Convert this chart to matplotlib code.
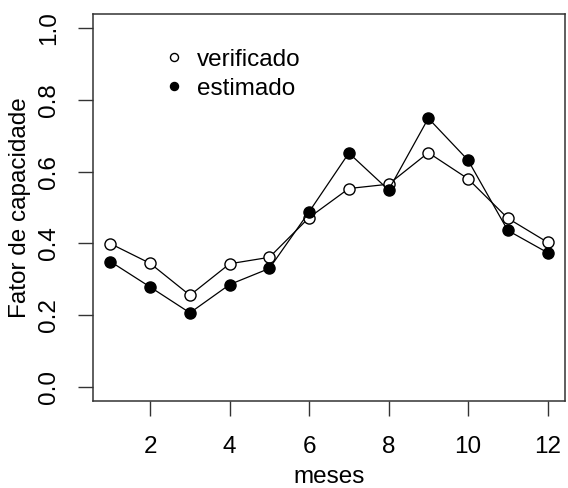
import matplotlib
matplotlib.use("Agg")
import matplotlib.pyplot as plt
from matplotlib.lines import Line2D

meses = [1, 2, 3, 4, 5, 6, 7, 8, 9, 10, 11, 12]
verificado = [0.399, 0.344, 0.255, 0.343, 0.361, 0.472, 0.553, 0.565, 0.653, 0.580, 0.470, 0.403]
estimado = [0.349, 0.278, 0.206, 0.285, 0.330, 0.488, 0.652, 0.549, 0.749, 0.632, 0.436, 0.374]
xticks = [2, 4, 6, 8, 10, 12]
yticks = [0.0, 0.2, 0.4, 0.6, 0.8, 1.0]
ytick_labels = ["0.0", "0.2", "0.4", "0.6", "0.8", "1.0"]

plt.rcParams['font.family'] = ['Liberation Sans', 'DejaVu Sans']
FS = 17.5

fig = plt.figure(figsize=(5.68, 4.88), dpi=100)
ax = fig.add_axes([93/568, 1 - 401/488, (565 - 93)/568, (401 - 14)/488])

ax.plot(meses, verificado, color='black', lw=0.9, marker='o', ms=8,
        mfc='white', mec='black', mew=1.0, zorder=3)
ax.plot(meses, estimado, color='black', lw=0.9, marker='o', ms=8,
        mfc='black', mec='black', mew=1.0, zorder=3)

ax.set_xlim(0.56, 12.44)
ax.set_ylim(-0.04, 1.04)
ax.set_xticks(xticks)
ax.set_yticks(yticks)
ax.set_yticklabels(ytick_labels, rotation=90, va='center')
ax.tick_params(axis='both', direction='out', length=11, width=1, labelsize=FS,
               color='#333333')
ax.tick_params(axis='x', pad=14)
ax.tick_params(axis='y', pad=13)
for s in ax.spines.values():
    s.set_linewidth(1.1)
    s.set_color('#333333')

ax.set_xlabel("meses", fontsize=FS, labelpad=6)
ax.set_ylabel("Fator de capacidade", fontsize=FS, labelpad=5)

handles = [
    Line2D([], [], ls='none', marker='o', ms=5.8, mfc='white', mec='black', mew=1.0),
    Line2D([], [], ls='none', marker='o', ms=5.8, mfc='black', mec='black', mew=1.0),
]
ax.legend(handles, ["verificado", "estimado"], loc='upper left',
          bbox_to_anchor=(0.13, 0.935), frameon=False, fontsize=FS,
          handlelength=0.8, handletextpad=0.55, labelspacing=0.28, borderaxespad=0)

fig.savefig("out.png", dpi=100)
